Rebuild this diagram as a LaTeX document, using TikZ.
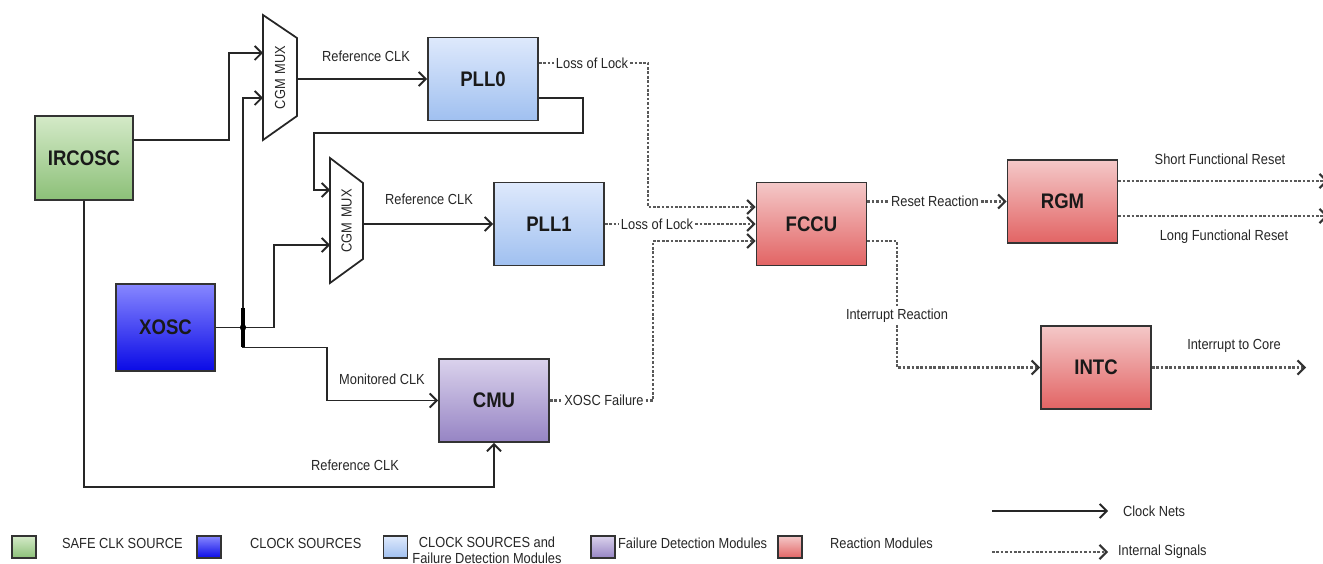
\documentclass[tikz,border=0pt]{standalone}
\usepackage{fontspec}
\setmainfont{Liberation Sans}[FakeStretch=0.88]
\usetikzlibrary{arrows.meta,positioning}

\definecolor{safetop}{RGB}{212,234,200}
\definecolor{safebot}{RGB}{140,192,120}
\definecolor{srctop}{RGB}{135,135,255}
\definecolor{srcbot}{RGB}{10,10,230}
\definecolor{plltop}{RGB}{222,233,252}
\definecolor{pllbot}{RGB}{160,192,240}
\definecolor{fdmtop}{RGB}{218,210,236}
\definecolor{fdmbot}{RGB}{150,132,196}
\definecolor{reatop}{RGB}{244,200,200}
\definecolor{reabot}{RGB}{226,100,100}

\tikzset{
	blk/.style={draw=black!80, line width=1pt, text=black!90, inner sep=0pt,
		font=\fontsize{12}{14}\selectfont\bfseries, minimum width=2.2cm, minimum height=1.66cm},
	safeblk/.style={blk, top color=safetop, bottom color=safebot},
	srcblk/.style={blk, top color=srctop, bottom color=srcbot},
	pllblk/.style={blk, top color=plltop, bottom color=pllbot},
	fdmblk/.style={blk, top color=fdmtop, bottom color=fdmbot},
	reablk/.style={blk, top color=reatop, bottom color=reabot},
	clk/.style={line width=1.1pt, draw=black!85, -{Straight Barb[length=4pt,width=8pt]}},
	sig/.style={line width=1.5pt, densely dotted, draw=black!65,
		-{Straight Barb[length=4pt,width=8pt,line width=1.2pt,color=black!80]}},
	lbl/.style={font=\fontsize{8.3}{9}\selectfont, text=black!85, inner sep=1pt},
	onsig/.style={lbl, fill=white},
	mux/.style={draw=black!85, line width=1pt, fill=white},
	key/.style={draw=black!80, line width=1pt, inner sep=0pt, minimum width=0.48cm, minimum height=0.44cm},
}

\begin{document}
\begin{tikzpicture}[x=0.02cm, y=-0.02cm]
	\useasboundingbox (0,0) rectangle (1323,564);
	% blocks
	\node[safeblk, minimum width=1.96cm, minimum height=1.68cm] (IRCOSC) at (84,158) {IRCOSC};
	\node[srcblk, minimum width=1.98cm, minimum height=1.74cm] (XOSC) at (165.5,327.5) {XOSC};
	\node[pllblk] (PLL0) at (483,79) {PLL0};
	\node[pllblk] (PLL1) at (549,224) {PLL1};
	\node[fdmblk] (CMU) at (494,400.5) {CMU};
	\node[reablk] (FCCU) at (811.5,224) {FCCU};
	\node[reablk] (RGM) at (1062.5,201.5) {RGM};
	\node[reablk] (INTC) at (1096,367.5) {INTC};
	% muxes
	\draw[mux] (263,15) -- (297,38) -- (297,116) -- (263,140) -- cycle;
	\node[lbl, rotate=90] (MUX0) at (280,77.5) {CGM\,\,MUX};
	\draw[mux] (330,158) -- (363,183) -- (363,259) -- (330,283) -- cycle;
	\node[lbl, rotate=90] (MUX1) at (346.5,221) {CGM\,\,MUX};
	\coordinate (mux0a) at (263,53);
	\coordinate (mux0b) at (263,98);
	\coordinate (mux0o) at (297,79);
	\coordinate (mux1a) at (330,190);
	\coordinate (mux1b) at (330,245);
	\coordinate (mux1o) at (363,224);
	% clock nets
	\draw[clk] ([yshift=0.36cm]IRCOSC.east) -- ++(95,0) |- (mux0a);
	\draw[clk] (IRCOSC.south) -- ++(0,286) -| (CMU.south);
	\coordinate (jn) at (243,327.5);
	\draw[clk] (XOSC.east) -- ++(58,0) |- (mux1b);
	\draw[clk] (jn) |- (mux0b);
	\draw[clk] (jn) -- ++(0,20) -- ++(84,0) |- (CMU.west);
	\draw[line width=2pt] (243,308) -- (243,347);
	\fill (jn) circle (1.8pt);
	\draw[clk] (mux0o) -- (PLL0.west);
	\draw[clk] (mux1o) -- (PLL1.west);
	%feedback
	\draw[clk] ([yshift=-0.38cm]PLL0.east) -- ++(44,0) -- ++(0,35) -- ++(-269,0) |- (mux1a);
	\node[lbl] (rc0) at (366,56) {Reference CLK};
	\node[lbl] (rc1) at (429,199) {Reference CLK};
	\node[lbl] (mon) at (382,379) {Monitored CLK};
	\node[lbl] (rc2) at (355,465) {Reference CLK};
	% internal signals to FCCU
	\node[onsig] (lol0) at (592,63) {Loss of Lock};
	\coordinate (t0) at (648,63);
	\draw[sig, -] (PLL0.east |- lol0) -- (lol0.west);
	\draw[sig] (lol0.east) -- (t0) |- ([yshift=0.34cm]FCCU.west);
	\node[onsig] (lol1) at (657,224) {Loss of Lock};
	\draw[sig, -] (PLL1.east) -- (lol1.west);
	\draw[sig] (lol1.east) -- (FCCU.west);
	\node[onsig] (xf) at (604,400.5) {XOSC Failure};
	\coordinate (t2) at (653,400.5);
	\draw[sig, -] (CMU.east) -- (xf.west);
	\draw[sig] (xf.east) -- (t2) |- ([yshift=-0.34cm]FCCU.west);
	% reactions
	\node[onsig] (rr) at (935,201.5) {Reset Reaction};
	\draw[sig, -] (FCCU.east |- rr) -- (rr.west);
	\draw[sig] (rr.east) -- (RGM.west);
	\node[onsig] (ir) at (897,316) {Interrupt Reaction};
	\draw[sig, -] ([yshift=-0.34cm]FCCU.east) -| (ir.north);
	\draw[sig] (ir.south) |- (INTC.west);
	\coordinate (sfr) at (1328,181);
	\coordinate (lfr) at (1328,216);
	\coordinate (itc) at (1306,367.5);
	\draw[sig] (RGM.east |- sfr) -- (sfr);
	\draw[sig] (RGM.east |- lfr) -- (lfr);
	\draw[sig] (INTC.east) -- (itc);
	\node[lbl] (sfrl) at (1220,159) {Short Functional Reset};
	\node[lbl] (lfrl) at (1224,237) {Long Functional Reset};
	\node[lbl] (itcl) at (1234,346) {Interrupt to Core};
	% legend
	\node[key, top color=safetop, bottom color=safebot] (kSafe) at (24,547) {};
	\node[lbl, anchor=west] (lSafe) at (60,543) {SAFE CLK SOURCE};
	\node[key, top color=srctop, bottom color=srcbot] (kSrc) at (209,547) {};
	\node[lbl, anchor=west] (lSrc) at (248,543) {CLOCK SOURCES};
	\node[key, top color=plltop, bottom color=pllbot] (kPll) at (395.5,547) {};
	\node[lbl, align=center] (lPll) at (487,550) {CLOCK SOURCES and\\Failure Detection Modules};
	\node[key, top color=fdmtop, bottom color=fdmbot] (kFdm) at (603,547) {};
	\node[lbl, anchor=west] (lFdm) at (616,543) {Failure Detection Modules};
	\node[key, top color=reatop, bottom color=reabot] (kRea) at (790,547) {};
	\node[lbl, anchor=west] (lRea) at (828,543) {Reaction Modules};
	\coordinate (kc0) at (992,511);
	\coordinate (kc1) at (1108,511);
	\draw[clk] (kc0) -- (kc1);
	\node[lbl, anchor=west] (lClk) at (1121,511) {Clock Nets};
	\coordinate (ks0) at (992,552);
	\coordinate (ks1) at (1108,552);
	\draw[sig] (ks0) -- (ks1);
	\node[lbl, anchor=west] (lSig) at (1116,552) {Internal Signals};
\end{tikzpicture}
\end{document}
